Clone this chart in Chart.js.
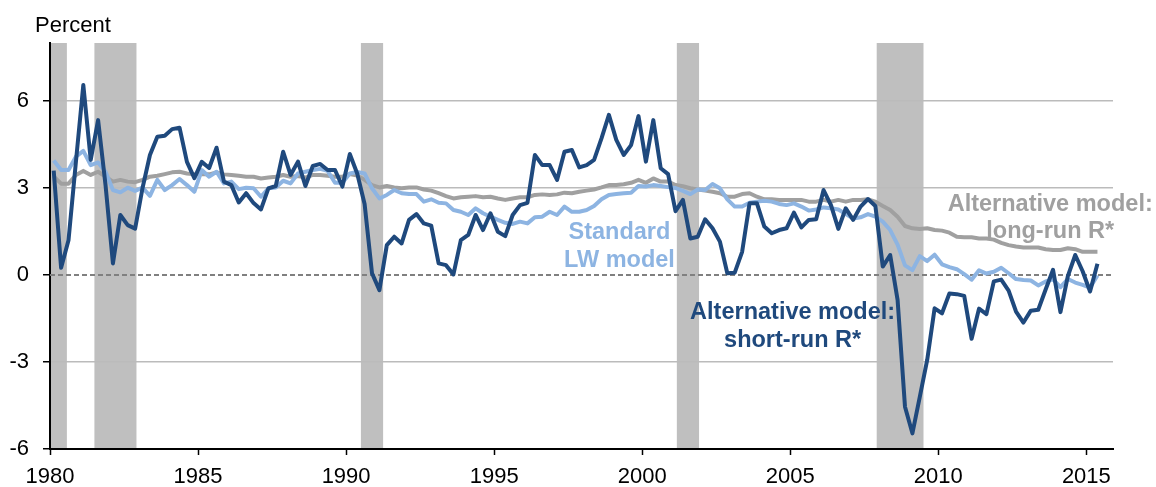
<!DOCTYPE html>
<html>
<head>
<meta charset="utf-8">
<script src="https://cdn.jsdelivr.net/npm/chart.js@4.4.1/dist/chart.umd.min.js"></script>
<style>
  html, body { margin: 0; padding: 0; background: #ffffff; }
  #wrap { width: 1156px; height: 487px; position: relative; }
</style>
</head>
<body>
<div id="wrap"><canvas id="c" width="1156" height="487"></canvas></div>
<script>
// ---------------- Data (quarterly, 1980Q1 .. 2015Q2) ----------------
const firstYear = 1980;

// Alternative model: short-run R*
const shortRunRstar = [
  3.6, 0.25, 1.2, 3.9,
  6.55, 3.97, 5.34, 3.1,
  0.4, 2.07, 1.72, 1.6,
  3.0, 4.14, 4.77, 4.8,
  5.03, 5.08, 3.9, 3.34,
  3.9, 3.69, 4.39, 3.22,
  3.1, 2.5, 2.82, 2.48,
  2.26, 2.99, 3.07, 4.25,
  3.45, 3.91, 3.07, 3.76,
  3.83, 3.62, 3.62, 3.05,
  4.17, 3.5, 2.45, 0.06,
  -0.52, 1.03, 1.32, 1.09,
  1.9, 2.1, 1.78, 1.7,
  0.4, 0.34, 0.02, 1.2,
  1.38, 2.07, 1.55, 2.13,
  1.49, 1.34, 2.07, 2.41,
  2.49, 4.14, 3.79, 3.79,
  3.28, 4.25, 4.31, 3.71,
  3.79, 3.97, 4.71, 5.52,
  4.66, 4.14, 4.48, 5.48,
  3.91, 5.34, 3.68, 3.48,
  2.2, 2.59, 1.26, 1.32,
  1.92, 1.61, 1.15, 0.06,
  0.08, 0.8, 2.47, 2.47,
  1.67, 1.44, 1.55, 1.61,
  2.15, 1.64, 1.9, 1.92,
  2.93, 2.41, 1.59, 2.3,
  1.9, 2.36, 2.62, 2.38,
  0.29, 0.69, -0.86, -4.54,
  -5.46, -4.2, -2.93, -1.15,
  -1.32, -0.64, -0.66, -0.72,
  -2.2, -1.16, -1.35, -0.22,
  -0.16, -0.54, -1.26, -1.64,
  -1.23, -1.2, -0.5, 0.18,
  -1.28, -0.04, 0.69, 0.13,
  -0.57, 0.39
];

// Standard LW model
const standardLW = [
  3.95, 3.62, 3.62, 4.08,
  4.28, 3.79, 3.88, 3.56,
  2.93, 2.85, 3.01, 2.9,
  3.01, 2.73, 3.28, 2.93,
  3.1, 3.31, 3.1, 2.87,
  3.62, 3.39, 3.56, 3.16,
  3.22, 2.96, 3.01, 2.99,
  2.7, 2.99, 3.02, 3.25,
  3.16, 3.5, 3.56, 3.62,
  3.66, 3.59, 3.18, 3.18,
  3.5, 3.55, 3.5, 2.99,
  2.64, 2.76, 2.93, 2.82,
  2.79, 2.79, 2.53, 2.61,
  2.49, 2.47, 2.24, 2.18,
  2.07, 2.3, 2.13, 2.01,
  1.9, 1.8, 1.76, 1.84,
  1.78, 1.99, 2.01, 2.18,
  2.07, 2.36, 2.18, 2.18,
  2.24, 2.38, 2.61, 2.76,
  2.79, 2.82, 2.84, 3.07,
  3.05, 3.1, 3.07, 3.03,
  3.0, 2.9, 2.79, 2.95,
  2.93, 3.14, 2.99, 2.61,
  2.36, 2.36, 2.49, 2.53,
  2.56, 2.53, 2.45, 2.41,
  2.47, 2.36, 2.22, 2.26,
  2.33, 2.3, 2.26, 2.1,
  1.95, 1.99, 2.1, 2.01,
  1.84, 1.55, 1.05, 0.33,
  0.17, 0.65, 0.48, 0.7,
  0.37, 0.27, 0.2, 0.03,
  -0.16, 0.16, 0.05, 0.11,
  0.25, 0.06, -0.14, -0.17,
  -0.19, -0.36, -0.22, -0.15,
  -0.42, -0.14, -0.26, -0.34,
  -0.44, -0.02
];

// Alternative model: long-run R*
const longRunRstar = [
  3.4, 3.15, 3.15, 3.45,
  3.59, 3.45, 3.56, 3.39,
  3.22, 3.28, 3.22, 3.2,
  3.28, 3.39, 3.42, 3.48,
  3.54, 3.56, 3.5, 3.47,
  3.47, 3.47, 3.54, 3.47,
  3.45, 3.42, 3.39, 3.39,
  3.33, 3.36, 3.39, 3.45,
  3.39, 3.41, 3.36, 3.45,
  3.45, 3.42, 3.39, 3.39,
  3.48, 3.43, 3.28, 3.1,
  3.02, 3.07, 3.02, 2.99,
  3.02, 3.02, 2.95, 2.91,
  2.82, 2.72, 2.64, 2.68,
  2.7, 2.72, 2.68, 2.7,
  2.64, 2.59, 2.64, 2.68,
  2.68, 2.76, 2.78, 2.76,
  2.78, 2.84, 2.82, 2.87,
  2.91, 2.95, 3.02, 3.1,
  3.1, 3.13, 3.18, 3.28,
  3.18, 3.33, 3.22, 3.22,
  3.1, 3.06, 2.99, 2.95,
  2.91, 2.87, 2.82, 2.7,
  2.7, 2.79, 2.82, 2.7,
  2.61, 2.61, 2.59, 2.59,
  2.59, 2.59, 2.53, 2.53,
  2.59, 2.53, 2.59, 2.53,
  2.59, 2.59, 2.61, 2.53,
  2.38, 2.24, 2.01, 1.69,
  1.61, 1.59, 1.61, 1.55,
  1.53, 1.46, 1.32, 1.3,
  1.3, 1.26, 1.26, 1.22,
  1.11, 1.03, 0.98, 0.95,
  0.95, 0.95, 0.89, 0.86,
  0.86, 0.92, 0.89, 0.8,
  0.8, 0.8
];

// NBER recessions (start, end in fractional years)
const recessionStarts = [1980.0, 1981.5, 1990.5, 2001.17, 2007.92];
const recessionEnds   = [1980.57, 1982.92, 1991.25, 2001.92, 2009.5];

// Axis ticks
const xTickYears = [1980, 1985, 1990, 1995, 2000, 2005, 2010, 2015];
const yTickValues = [-6, -3, 0, 3, 6];
const yGridValues = [-3, 3, 6];
const zeroLineValue = 0;

// Quarter time positions (mid-quarter)
const quarterTimes = shortRunRstar.map((_, i) => firstYear + Math.floor(i / 4) + ((i % 4) + 0.5) / 4);
const toPoints = arr => arr.map((v, i) => ({ x: quarterTimes[i], y: v }));

// ---------------- Styling ----------------
const DARK_BLUE = '#1F497D';
const LIGHT_BLUE = '#8DB4E2';
const GRAY = '#A0A0A0';
const BAND = '#BFBFBF';
const FONT = '"Liberation Sans", Arial, Helvetica, sans-serif';

const annotations = [
  { lines: ['Standard', 'LW model'], x: 1999.23, y: 1.23, color: LIGHT_BLUE },
  { lines: ['Alternative model:', 'short-run R*'], x: 2005.08, y: -1.53, color: DARK_BLUE },
  { lines: ['Alternative model:', 'long-run R*'], x: 2013.78, y: 2.22, color: GRAY }
];

const bandsPlugin = {
  id: 'bands',
  beforeDraw(chart) {
    const { ctx, chartArea, scales } = chart;
    ctx.save();
    ctx.fillStyle = BAND;
    for (let i = 0; i < recessionStarts.length; i++) {
      const x0 = scales.x.getPixelForValue(recessionStarts[i]);
      const x1 = scales.x.getPixelForValue(recessionEnds[i]);
      ctx.fillRect(x0, chartArea.top, x1 - x0, chartArea.bottom - chartArea.top);
    }
    ctx.restore();
  },
  beforeDatasetsDraw(chart) {
    const { ctx, chartArea, scales } = chart;
    const y = scales.y.getPixelForValue(zeroLineValue);
    ctx.save();
    ctx.strokeStyle = '#808080';
    ctx.lineWidth = 2;
    ctx.setLineDash([5, 3]);
    ctx.beginPath();
    ctx.moveTo(chartArea.left, y);
    ctx.lineTo(chartArea.right, y);
    ctx.stroke();
    ctx.restore();
  },
  afterDatasetsDraw(chart) {
    const { ctx, scales } = chart;
    ctx.save();
    ctx.font = 'bold 23.5px ' + FONT;
    ctx.textAlign = 'center';
    ctx.textBaseline = 'alphabetic';
    annotations.forEach(a => {
      const px = scales.x.getPixelForValue(a.x);
      const py = scales.y.getPixelForValue(a.y);
      ctx.fillStyle = a.color;
      a.lines.forEach((t, k) => ctx.fillText(t, px, py + k * 27.5));
    });
    ctx.restore();
  },
  afterDraw(chart) {
    const { ctx } = chart;
    ctx.save();
    ctx.font = '22px ' + FONT;
    ctx.fillStyle = '#000';
    ctx.textAlign = 'left';
    ctx.textBaseline = 'alphabetic';
    ctx.fillText('Percent', 35, 31.5);
    ctx.restore();
  }
};

new Chart(document.getElementById('c'), {
  type: 'line',
  data: {
    datasets: [
      { label: 'Alternative model: short-run R*', data: toPoints(shortRunRstar), borderColor: DARK_BLUE, borderWidth: 4, order: 1 },
      { label: 'Standard LW model', data: toPoints(standardLW), borderColor: LIGHT_BLUE, borderWidth: 4, order: 2 },
      { label: 'Alternative model: long-run R*', data: toPoints(longRunRstar), borderColor: GRAY, borderWidth: 4, order: 3 }
    ]
  },
  options: {
    responsive: false,
    animation: false,
    events: [],
    elements: {
      point: { radius: 0 },
      line: { tension: 0, fill: false, borderJoinStyle: 'round', borderCapStyle: 'butt' }
    },
    layout: { padding: { top: 43, right: 43, bottom: 0, left: 0 } },
    plugins: { legend: { display: false }, tooltip: { enabled: false }, title: { display: false } },
    scales: {
      x: {
        type: 'linear',
        min: 1980,
        max: 2015.9,
        afterBuildTicks: s => { s.ticks = xTickYears.map(v => ({ value: v })); },
        afterFit: s => { s.height = 38; },
        ticks: {
          autoSkip: false, maxRotation: 0, minRotation: 0,
          padding: 9,
          color: '#000',
          font: { family: FONT, size: 22 },
          callback: v => String(v)
        },
        grid: { drawOnChartArea: false, drawTicks: true, tickLength: 6, tickColor: '#000', tickWidth: 1.5 },
        border: { display: true, color: '#000', width: 2 }
      },
      y: {
        type: 'linear',
        min: -6,
        max: 8,
        afterBuildTicks: s => { s.ticks = yTickValues.map(v => ({ value: v })); },
        afterFit: s => { s.width = 50; },
        ticks: {
          padding: 14,
          color: '#000',
          font: { family: FONT, size: 22 },
          callback: v => String(v)
        },
        grid: {
          color: c => (c.tick && yGridValues.includes(c.tick.value)) ? '#BBBBBB' : 'rgba(0,0,0,0)',
          lineWidth: 1.5,
          drawTicks: true, tickLength: 7, tickColor: '#000', tickWidth: 1.5
        },
        border: { display: true, color: '#000', width: 2 }
      }
    }
  },
  plugins: [bandsPlugin]
});
</script>
</body>
</html>
